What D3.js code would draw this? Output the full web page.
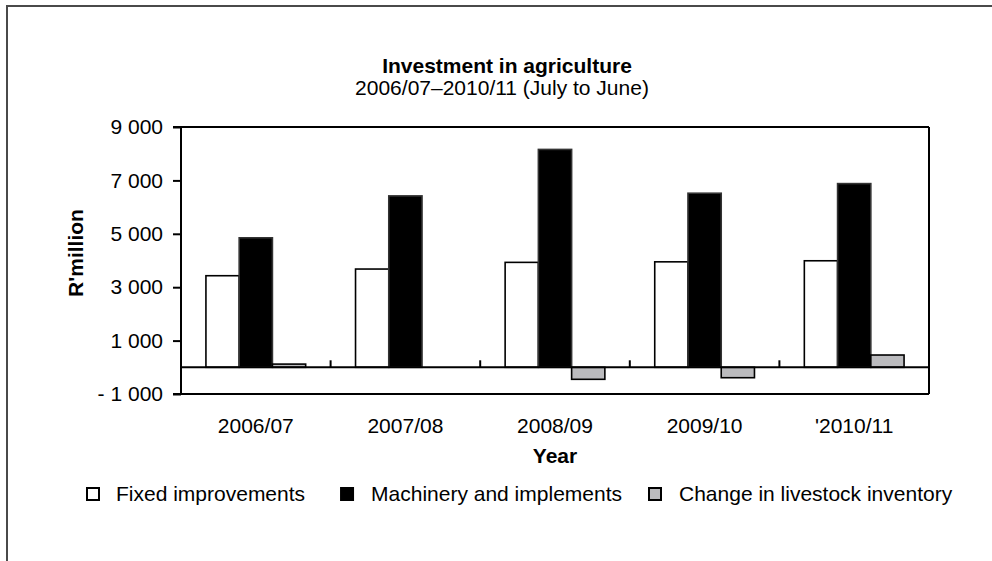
<!DOCTYPE html>
<html><head><meta charset="utf-8">
<script src="https://cdn.jsdelivr.net/npm/d3@7"></script>
<style>body{margin:0;background:#fff;}svg{display:block;font-family:"Liberation Sans",Arial,sans-serif;}</style>
</head><body>
<script>
const categories = ["2006/07","2007/08","2008/09","2009/10","'2010/11"];
const seriesNames = ["Fixed improvements","Machinery and implements","Change in livestock inventory"];
const fixedImprovements = [3430, 3680, 3930, 3950, 3990];
const machinery = [4850, 6420, 8160, 6520, 6880];
const livestockChange = [120, 0, -450, -390, 460];
const yTicks = [-1000, 1000, 3000, 5000, 7000, 9000];
const fills = ["#ffffff","#000000","#bbbbbe"];
const strokes = ["#000","#333","#000"];

(function(){
const W = 992, H = 561;
const svg = d3.select("body").append("svg").attr("width", W).attr("height", H);
svg.append("rect").attr("x",7).attr("y",6).attr("width",1100).attr("height",700)
  .attr("fill","none").attr("stroke","#4a4a4a").attr("stroke-width",2);

const pl = 181, pr = 929, pt = 127, pb = 394;
const x = d3.scaleBand().domain(categories).range([pl, pr]).padding(0);
const bw = x.bandwidth();
const x1 = d3.scaleBand().domain(seriesNames).range([bw/6, bw*5/6]).padding(0);
const y = d3.scaleLinear().domain([-1000, 9000]).range([pb, pt]);

const seriesData = [fixedImprovements, machinery, livestockChange];
const g = svg.append("g");
seriesNames.forEach((s, si) => {
  g.selectAll(".b"+si).data(categories).enter().append("rect")
    .attr("x", c => x(c) + x1(s))
    .attr("width", x1.bandwidth())
    .attr("y", (c,i) => y(Math.max(0, seriesData[si][i])))
    .attr("height", (c,i) => Math.abs(y(seriesData[si][i]) - y(0)))
    .attr("fill", fills[si]).attr("stroke", strokes[si]).attr("stroke-width", 1.6);
});

// plot frame
svg.append("line").attr("x1",pl).attr("x2",pr).attr("y1",pt).attr("y2",pt).attr("stroke","#000").attr("stroke-width",2);
svg.append("line").attr("x1",pr).attr("x2",pr).attr("y1",pt).attr("y2",pb).attr("stroke","#000").attr("stroke-width",2);
svg.append("line").attr("x1",pl).attr("x2",pr).attr("y1",pb).attr("y2",pb).attr("stroke","#000").attr("stroke-width",2);

// y axis
const yAxis = d3.axisLeft(y).tickValues(yTicks).tickSize(8).tickPadding(10)
  .tickFormat(d => (d < 0 ? "- " : "") + d3.format(",")(Math.abs(d)).replace(/,/g, " "));
const ya = svg.append("g").attr("transform", `translate(${pl},0)`).call(yAxis);
ya.select(".domain").attr("stroke","#000").attr("stroke-width",2).attr("d", `M-8,${pt}H0V${pb}H-8`);
ya.selectAll(".tick line").attr("stroke","#000").attr("stroke-width",2);
ya.selectAll("text").attr("font-size",21).attr("fill","#000").attr("font-family","Liberation Sans, Arial, sans-serif");

// zero category axis with inward ticks
svg.append("line").attr("x1",pl).attr("x2",pr).attr("y1",y(0)).attr("y2",y(0)).attr("stroke","#000").attr("stroke-width",2);
const bounds = categories.slice(1).map(c => x(c)).concat([pr]);
svg.selectAll(".ctick").data(bounds).enter().append("line")
  .attr("x1", d=>d).attr("x2", d=>d).attr("y1", y(0)).attr("y2", y(0)-7)
  .attr("stroke","#000").attr("stroke-width",2);

// category labels
svg.selectAll(".clab").data(categories).enter().append("text")
  .attr("x", c => x(c) + bw/2).attr("y", 433).attr("text-anchor","middle")
  .attr("font-size",21).text(c => c);

svg.append("text").attr("x",(pl+pr)/2).attr("y",463).attr("text-anchor","middle")
  .attr("font-size",21).attr("font-weight","bold").text("Year");
svg.append("text").attr("transform",`translate(83,253) rotate(-90)`).attr("text-anchor","middle")
  .attr("font-size",21).attr("font-weight","bold").text("R'million");

svg.append("text").attr("x",507).attr("y",73).attr("text-anchor","middle")
  .attr("font-size",21).attr("font-weight","bold").text("Investment in agriculture");
svg.append("text").attr("x",502).attr("y",95).attr("text-anchor","middle")
  .attr("font-size",21).text("2006/07\u20132010/11 (July to June)");

// legend
const lg = svg.append("g");
function legendItem(i, sqX, textX, anchor) {
  lg.append("rect").attr("x", sqX+1).attr("y", 488).attr("width", 12).attr("height", 12)
    .attr("fill", fills[i]).attr("stroke","#000").attr("stroke-width",2);
}
// item 0
legendItem(0, 86);
lg.append("text").attr("x", 116).attr("y", 501).attr("font-size",21).text(seriesNames[0]);
// item 1: text ends at 622
const t1 = lg.append("text").attr("x", 622).attr("y", 501).attr("text-anchor","end").attr("font-size",21).text(seriesNames[1]);
const w1 = t1.node().getComputedTextLength();
legendItem(1, 622 - w1 - 31);
// item 2
legendItem(2, 648);
lg.append("text").attr("x", 679).attr("y", 501).attr("font-size",21).text(seriesNames[2]);
})();
</script>
</body></html>
